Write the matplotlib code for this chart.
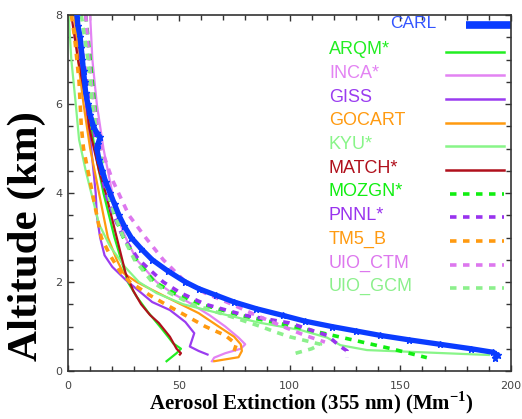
import matplotlib.pyplot as plt
from matplotlib.ticker import MultipleLocator

plt.rcParams['mathtext.fontset'] = 'custom'
plt.rcParams['mathtext.rm'] = 'Liberation Serif:bold'
plt.rcParams['mathtext.bf'] = 'Liberation Serif:bold'

# Perfiles de extincion (Mm-1) contra altitud (km)
carl_alt = [8.0, 7.75, 7.5, 7.25, 7.0, 6.75, 6.5, 6.25, 6.0, 5.75, 5.5, 5.35, 5.25, 5.1,
            5.0, 4.75, 4.5, 4.25, 4.0, 3.75, 3.5, 3.25, 3.0, 2.75, 2.5, 2.25, 2.0, 1.85,
            1.7, 1.55, 1.4, 1.25, 1.12, 1.0, 0.9, 0.8, 0.7, 0.6, 0.5, 0.42, 0.35, 0.3]
carl_ext = [4, 4.5, 5.5, 6, 6.5, 7, 7.5, 8, 9, 10, 11.5, 13, 14.5, 13.5,
            13, 14, 15.5, 17, 19, 21, 23, 25.5, 28.5, 33, 38, 45, 53, 59,
            67, 75, 85, 97, 107, 119, 130, 141, 154, 168, 182, 192, 194, 193]

arqm_alt = [8.0, 7.0, 6.0, 5.0, 4.0, 3.0, 2.5, 2.0, 1.67, 1.33, 1.0, 0.75, 0.62, 0.5, 0.4, 0.3, 0.22]
arqm_ext = [3, 6, 9, 12, 16, 21, 24, 27, 31, 36, 41.5, 45.5, 47.5, 51, 49, 46.5, 44.5]

inca_alt = [8.0, 7.0, 6.0, 5.0, 4.0, 3.5, 3.0, 2.5, 2.0, 1.75, 1.5, 1.25, 1.0, 0.75, 0.6, 0.5, 0.4, 0.3, 0.22]
inca_ext = [10, 11, 13, 16, 20, 22, 26, 31, 40, 47, 56, 64, 71, 77, 80, 78, 71, 66, 65]

giss_alt = [8.0, 7.0, 6.0, 5.0, 4.0, 3.5, 3.0, 2.6, 2.34, 2.05, 1.8, 1.55, 1.37, 1.1, 0.85, 0.7, 0.55, 0.45, 0.37]
giss_ext = [3, 5.5, 8, 10.5, 12.5, 13, 14.5, 16.5, 20, 26, 32, 38, 46, 53, 57, 56, 55, 59, 63]

gocart_alt = [8.0, 7.0, 6.0, 5.0, 4.0, 3.5, 3.0, 2.5, 2.2, 2.0, 1.67, 1.3, 1.0, 0.77, 0.6, 0.45, 0.31, 0.22]
gocart_ext = [3, 4.5, 7, 10, 14, 16, 18, 22, 25, 31, 44, 59, 68, 75, 78, 78.5, 77, 66]

kyu_alt = [8.0, 7.0, 6.0, 5.2, 4.5, 3.9, 3.3, 2.8, 2.34, 2.0, 1.75, 1.5, 1.3, 1.08, 0.92, 0.75, 0.58, 0.47, 0.42, 0.36]
kyu_ext = [0.3, 1.5, 3.5, 5, 8, 11, 14, 19, 25.7, 32, 40, 52, 68, 87, 105, 117, 123, 135, 160, 190]

match_alt = [8.0, 7.5, 7.0, 6.5, 6.0, 5.5, 5.2, 4.5, 4.0, 3.5, 3.0, 2.5, 2.2, 1.8, 1.5, 1.26, 1.08, 0.77, 0.5, 0.4, 0.37]
match_ext = [1.5, 3, 4.5, 6.5, 8.5, 9.5, 10.8, 14, 17, 19.5, 22, 24.5, 26, 29.5, 33, 37, 41, 46, 49, 51, 50.5]

mozgn_alt = [8.0, 7.0, 6.0, 5.0, 4.5, 4.0, 3.5, 3.0, 2.5, 2.0, 1.75, 1.5, 1.25, 1.0, 0.75, 0.5, 0.3]
mozgn_ext = [8, 10, 12, 14, 16, 18, 21, 25, 31, 39, 48, 60, 78, 102, 124, 146, 162]

pnnl_alt = [8.0, 7.0, 6.0, 5.0, 4.0, 3.5, 3.0, 2.5, 2.0, 1.75, 1.5, 1.25, 1.08, 0.8, 0.55, 0.45, 0.3]
pnnl_ext = [4, 7, 10, 13, 17, 20.5, 25, 32, 43, 51, 62, 80, 100, 117, 123, 126, 126]

tm5_alt = [8.0, 7.5, 7.0, 6.5, 6.0, 5.5, 5.0, 4.5, 4.0, 3.5, 3.0, 2.6, 2.2, 2.0, 1.7, 1.5, 1.25, 1.0, 0.8, 0.6, 0.45]
tm5_ext = [1.5, 3, 4, 5, 5.5, 6, 7, 9, 11, 13, 15, 19, 24, 28, 37, 44, 53, 62, 71, 76, 75]

uioctm_alt = [8.0, 7.0, 6.0, 5.0, 4.3, 3.5, 3.0, 2.5, 2.0, 1.75, 1.5, 1.25, 1.0, 0.8, 0.65]
uioctm_ext = [8, 9.5, 11.5, 15, 20, 27.5, 35, 43, 53, 62, 74, 85, 97, 107, 116]

uiogcm_alt = [8.0, 7.0, 6.0, 5.0, 4.0, 3.5, 3.0, 2.5, 2.0, 1.75, 1.5, 1.2, 1.0, 0.87, 0.77, 0.6, 0.5, 0.36]
uiogcm_ext = [6, 9, 11, 14, 18, 21, 25, 30, 38, 46, 56, 75, 87, 94, 100, 114, 110, 100]

names = ['ARQM*', 'INCA*', 'GISS', 'GOCART', 'KYU*', 'MATCH*',
         'MOZGN*', 'PNNL*', 'TM5_B', 'UIO_CTM', 'UIO_GCM']
alts = [arqm_alt, inca_alt, giss_alt, gocart_alt, kyu_alt, match_alt,
        mozgn_alt, pnnl_alt, tm5_alt, uioctm_alt, uiogcm_alt]
exts = [arqm_ext, inca_ext, giss_ext, gocart_ext, kyu_ext, match_ext,
        mozgn_ext, pnnl_ext, tm5_ext, uioctm_ext, uiogcm_ext]
colors = ['#22ee22', '#e383f3', '#9a3cf0', '#ff9a10', '#88f588', '#b0101c',
          '#11ee11', '#9933ee', '#ff9a10', '#dd77ee', '#8cf08c']
dashed = [False, False, False, False, False, False, True, True, True, True, True]
dash = (0, (1.8, 1.8))

fig = plt.figure(figsize=(5.22, 4.19), dpi=100)
ax = fig.add_axes([68 / 522, 1 - 371 / 419, 443 / 522, 356 / 419])

for name, a, e, c, d in zip(names, alts, exts, colors, dashed):
    if d:
        ax.plot(e, a, color=c, linewidth=2.6, linestyle=dash)
    else:
        ax.plot(e, a, color=c, linewidth=1.6)

# observaciones CARL
ax.plot(carl_ext, carl_alt, color='#0a3cff', linewidth=3.8, marker='*',
        markersize=5, zorder=5)

# leyenda hecha a mano
ax.text(0.727, 0.975, 'CARL', color='#3355ff', fontsize=12.5,
        family='Liberation Sans', va='center', transform=ax.transAxes)
ax.plot([0.898, 1.0], [0.972, 0.972], color='#0a3cff', linewidth=5.5,
        transform=ax.transAxes, clip_on=False, solid_capstyle='butt')
for i, (name, c, d) in enumerate(zip(names, colors, dashed)):
    y = 0.902 - i * 0.0665
    ax.text(0.589, y, name, color=c, fontsize=13, family='Liberation Sans',
            va='center', transform=ax.transAxes)
    if d:
        ax.plot([0.862, 0.984], [y - 0.005, y - 0.005], color=c, linewidth=2.6,
                linestyle=dash, transform=ax.transAxes)
    else:
        ax.plot([0.853, 0.984], [y - 0.005, y - 0.005], color=c, linewidth=1.8,
                transform=ax.transAxes)

ax.set_xlim(0, 200)
ax.set_ylim(0, 8)
ax.xaxis.set_major_locator(MultipleLocator(50))
ax.xaxis.set_minor_locator(MultipleLocator(10))
ax.yaxis.set_major_locator(MultipleLocator(2))
ax.yaxis.set_minor_locator(MultipleLocator(0.5))
ax.tick_params(which='both', direction='in', top=True, right=True,
               color='#333333', width=1.0, labelsize=8, labelcolor='#444444')
ax.tick_params(which='major', length=4.5)
ax.tick_params(which='minor', length=3.5)
ax.tick_params(axis='x', pad=7)
ax.tick_params(axis='y', pad=4)
for s in ax.spines.values():
    s.set_color('#333333')
    s.set_linewidth(1.2)

ax.set_ylabel('Altitude (km)', fontsize=31, fontweight='bold',
              family='Liberation Serif')
ax.yaxis.set_label_coords(-0.05, 0.38)
ax.set_xlabel(r'Aerosol Extinction (355 nm) (Mm$^{-1}$)', fontsize=15,
              fontweight='bold', family='Liberation Serif')
ax.xaxis.set_label_coords(0.549, -0.052)

fig.savefig('out.png', dpi=100)
